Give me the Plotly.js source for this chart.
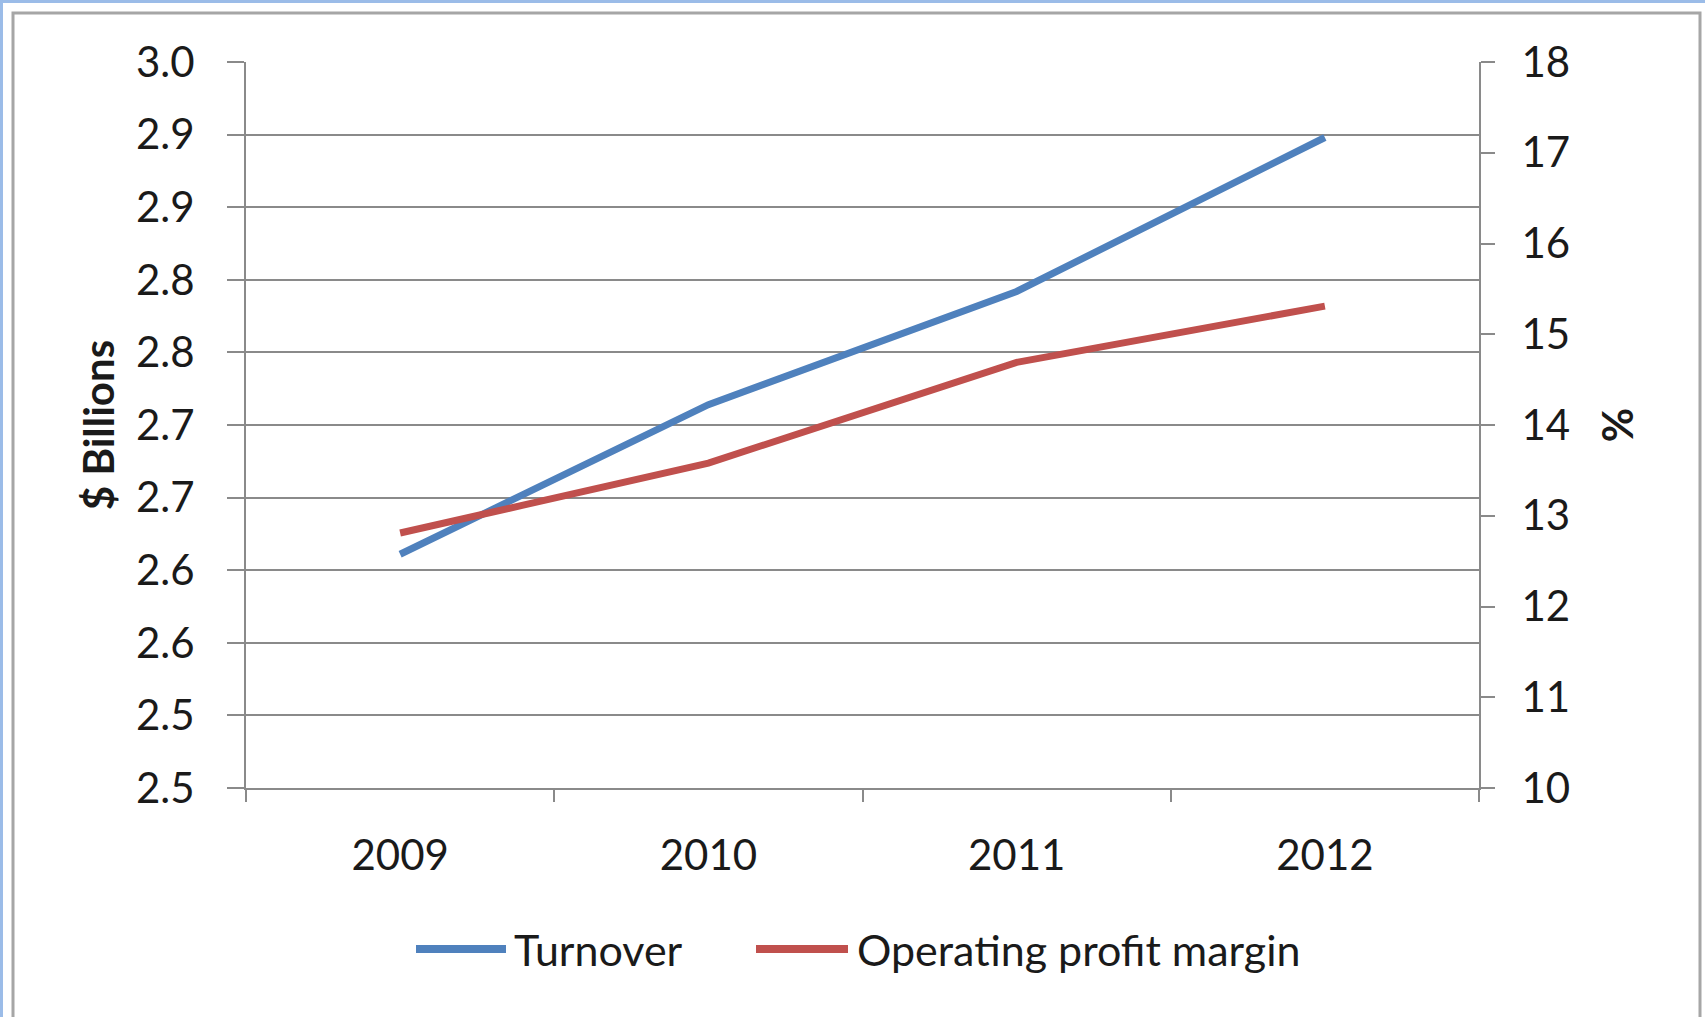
<!DOCTYPE html>
<html>
<head>
<meta charset="utf-8">
<script src="https://cdn.plot.ly/plotly-3.0.1.min.js"></script>
<style>html,body{margin:0;padding:0;background:#fff;}#chart{width:1705px;height:1017px;}</style>
</head>
<body>
<div id="chart"></div>
<script>
// ---- data ----
const years = ["2009", "2010", "2011", "2012"];
const turnover = [2.661, 2.764, 2.842, 2.948];          // $ Billions (left axis)
const operatingMargin = [12.81, 13.58, 14.69, 15.31];   // % (right axis)
const seriesNames = ["Turnover", "Operating profit margin"];
const seriesColors = ["#4F81BD", "#C0504D"];
const leftTickVals = [2.50, 2.55, 2.60, 2.65, 2.70, 2.75, 2.80, 2.85, 2.90, 2.95, 3.00];
const leftTickText = ["2.5", "2.5", "2.6", "2.6", "2.7", "2.7", "2.8", "2.8", "2.9", "2.9", "3.0"];
const rightTickVals = [10, 11, 12, 13, 14, 15, 16, 17, 18];

// ---- layout geometry ----
const W = 1705, H = 1017;
const M = {l: 246, r: 226, t: 62, b: 229};
const PW = W - M.l - M.r, PH = H - M.t - M.b;
const px = v => (v - M.l) / PW;
const py = v => (H - M.b - v) / PH;

const FONT = "Lato, 'Open Sans', sans-serif";
const txt = "#1a1a1a";
const gridCol = "#8a8a8a";

const traces = [
  {x: years, y: turnover, name: seriesNames[0], type: "scatter", mode: "lines",
   line: {color: seriesColors[0], width: 7}, yaxis: "y"},
  {x: years, y: operatingMargin, name: seriesNames[1], type: "scatter", mode: "lines",
   line: {color: seriesColors[1], width: 7}, yaxis: "y2"}
];

// custom legend (long line samples like the original)
const legendY = py(949);
const legendItems = [
  {line: [416, 506], textX: 512},
  {line: [756, 848], textX: 855}
];
const legendShapes = legendItems.map((it, i) => ({
  type: "line", xref: "paper", yref: "paper",
  x0: px(it.line[0]), x1: px(it.line[1]), y0: legendY, y1: legendY,
  line: {color: seriesColors[i], width: 8}
}));
const legendLabels = legendItems.map((it, i) => ({
  xref: "paper", yref: "paper", x: px(it.textX), y: legendY,
  xanchor: "left", yanchor: "middle", showarrow: false,
  text: seriesNames[i], font: {family: FONT, size: 43, color: txt}
}));

const layout = {
  width: W, height: H,
  margin: M,
  paper_bgcolor: "#ffffff", plot_bgcolor: "#ffffff",
  font: {family: FONT, size: 42, color: txt},
  showlegend: false,
  xaxis: {type: "category", range: [-0.5, 3.5], tickson: "boundaries",
          showgrid: false, showline: true, linecolor: gridCol, linewidth: 2,
          ticks: "outside", ticklen: 12, tickwidth: 2, tickcolor: gridCol,
          ticklabelstandoff: 30, tickfont: {size: 42, color: txt}, zeroline: false},
  yaxis: {range: [2.5, 3.0], tickmode: "array", tickvals: leftTickVals, ticktext: leftTickText,
          showgrid: true, gridcolor: gridCol, gridwidth: 2,
          showline: true, linecolor: gridCol, linewidth: 2,
          ticks: "outside", ticklen: 17, tickwidth: 2, tickcolor: gridCol,
          ticklabelstandoff: 24, tickfont: {size: 42, color: txt}, zeroline: false,
          title: {text: "<b>$ Billions</b>", font: {size: 42, color: txt}, standoff: 8}},
  yaxis2: {range: [10, 18], overlaying: "y", side: "right", tickmode: "array", tickvals: rightTickVals,
           showgrid: false, showline: true, linecolor: gridCol, linewidth: 2,
           ticks: "outside", ticklen: 14, tickwidth: 2, tickcolor: gridCol,
           ticklabelstandoff: 18, tickfont: {size: 42, color: txt}, zeroline: false,
           title: {text: "<b>%</b>", font: {size: 42, color: txt}, standoff: 34}},
  annotations: legendLabels,
  shapes: [
    {type: "rect", xref: "paper", yref: "paper", x0: px(0), x1: px(W), y0: py(0), y1: py(3),
     fillcolor: "#9BBCE8", line: {width: 0}, layer: "below"},
    {type: "rect", xref: "paper", yref: "paper", x0: px(0), x1: px(3), y0: py(0), y1: py(H),
     fillcolor: "#9BBCE8", line: {width: 0}, layer: "below"},
    {type: "rect", xref: "paper", yref: "paper", x0: px(13), x1: px(1700), y0: py(13), y1: py(H + 10),
     fillcolor: "rgba(0,0,0,0)", line: {color: "#a6a6a6", width: 3}, layer: "below"}
  ].concat(legendShapes)
};

Plotly.newPlot("chart", traces, layout, {displayModeBar: false, staticPlot: true});
</script>
</body>
</html>
